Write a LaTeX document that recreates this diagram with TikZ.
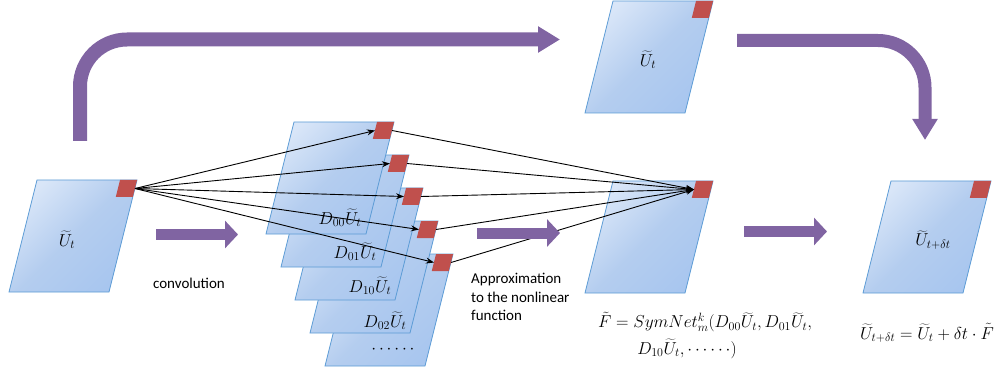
\documentclass[tikz,border=0pt]{standalone}
\usepackage{fontspec}
\setmainfont{Carlito}
\usetikzlibrary{arrows.meta}
\definecolor{pur}{HTML}{8064A2}
\definecolor{redsq}{HTML}{C0504D}
\definecolor{bord}{HTML}{5B9BD5}
\definecolor{blA}{HTML}{D9E6F8}
\definecolor{blM}{HTML}{B4CDEF}
\definecolor{blB}{HTML}{A8C6EF}
\tikzset{
  plate/.style={draw=bord, line width=0.8pt, top color=blA, bottom color=blB, middle color=blM, shading angle=45},
  marker/.style={fill=redsq},
  conn/.style={-{Stealth[length=8pt,width=6pt]}, line width=0.9pt},
  fat/.style={draw=pur, line width=11pt, -{Triangle[length=13pt,width=27pt]}},
  bendarrow/.style={draw=pur, line width=14pt, rounded corners=47pt, -{Triangle[length=22pt,width=25pt]}},
  lbl/.style={font=\fontsize{15}{18.5}\selectfont, align=left, inner sep=0pt},
  mlbl/.style={font=\fontsize{18}{20}\selectfont, inner sep=0pt},
  flbl/.style={font=\fontsize{17}{20}\selectfont, inner sep=0pt},
}
\newcommand\myplate[3]{%
  \path[plate] (#2,#3) -- ++(-100,0) -- ++(-28,112) -- ++(100,0) -- cycle;
  \fill[marker] (#2,#3) -- ++(-17,0) -- ++(-4.25,17) -- ++(17,0) -- cycle;
  \coordinate (#1-in) at (#2-19,#3+8.5);
  \coordinate (#1-out) at (#2-2,#3+8.5);
}
\begin{document}
\begin{tikzpicture}[x=1pt,y=-1pt]
\useasboundingbox (0,0) rectangle (1006,374);
% plates
\myplate{U}{137}{180}
\myplate{P5}{453}{254}
\myplate{P4}{438}{221}
\myplate{P3}{423}{188}
\myplate{P2}{409}{155}
\myplate{P1}{394}{122}
\myplate{F}{713}{181}
\myplate{T}{713}{1}
\myplate{R}{991}{181}
% labels in plates
\node[mlbl] (lu) at (67,240) {$\widetilde{U}_t$};
\node[mlbl] (lt) at (648,60) {$\widetilde{U}_t$};
\node[mlbl] (lr) at (933,240) {$\widetilde{U}_{t+\delta t}$};
\node[mlbl] (l1) at (340,218) {$D_{00}\widetilde{U}_t$};
\node[mlbl] (l2) at (355,252) {$D_{01}\widetilde{U}_t$};
\node[mlbl] (l3) at (370,286) {$D_{10}\widetilde{U}_t$};
\node[mlbl] (l4) at (385,321) {$D_{02}\widetilde{U}_t$};
\node[mlbl] (l5) at (393,350) {$\cdots\cdots$};
% connectors
\foreach \p in {P1,P2,P3,P4,P5}{
  \draw[conn] (U-out) -- (\p-in);
  \draw[conn] (\p-out) -- (F-in);
}
% purple arrows
\coordinate (a1s) at (156,234.5); \coordinate (a1e) at (238,234.5);
\coordinate (a2s) at (477,233);   \coordinate (a2e) at (560,233);
\coordinate (a3s) at (744,231.5); \coordinate (a3e) at (827,231.5);
\draw[fat] (a1s) -- (a1e);
\draw[fat] (a2s) -- (a2e);
\draw[fat] (a3s) -- (a3e);
\coordinate (b1s) at (80,141); \coordinate (b1e) at (560,39.5);
\coordinate (b2s) at (737,40.5); \coordinate (b2e) at (925,140);
\draw[bendarrow] (b1s) |- (b1e);
\draw[bendarrow, line width=13pt, -{Triangle[length=21pt,width=24pt]}] (b2s) -| (b2e);
% texts
\node[lbl] (conv) at (189,283) {convolution};
\node[lbl, anchor=west] (approx) at (471,297) {Approximation\\to the nonlinear\\function};
\node[flbl] (f1) at (705,322) {$\tilde{F}=SymNet_m^k(D_{00}\widetilde{U}_t,D_{01}\widetilde{U}_t,$};
\node[flbl] (f2) at (687,349) {$D_{10}\widetilde{U}_t,\cdots\cdots)$};
\node[flbl] (f3) at (927,333) {$\widetilde{U}_{t+\delta t}=\widetilde{U}_t+\delta t\cdot\tilde{F}$};
\end{tikzpicture}
\end{document}
